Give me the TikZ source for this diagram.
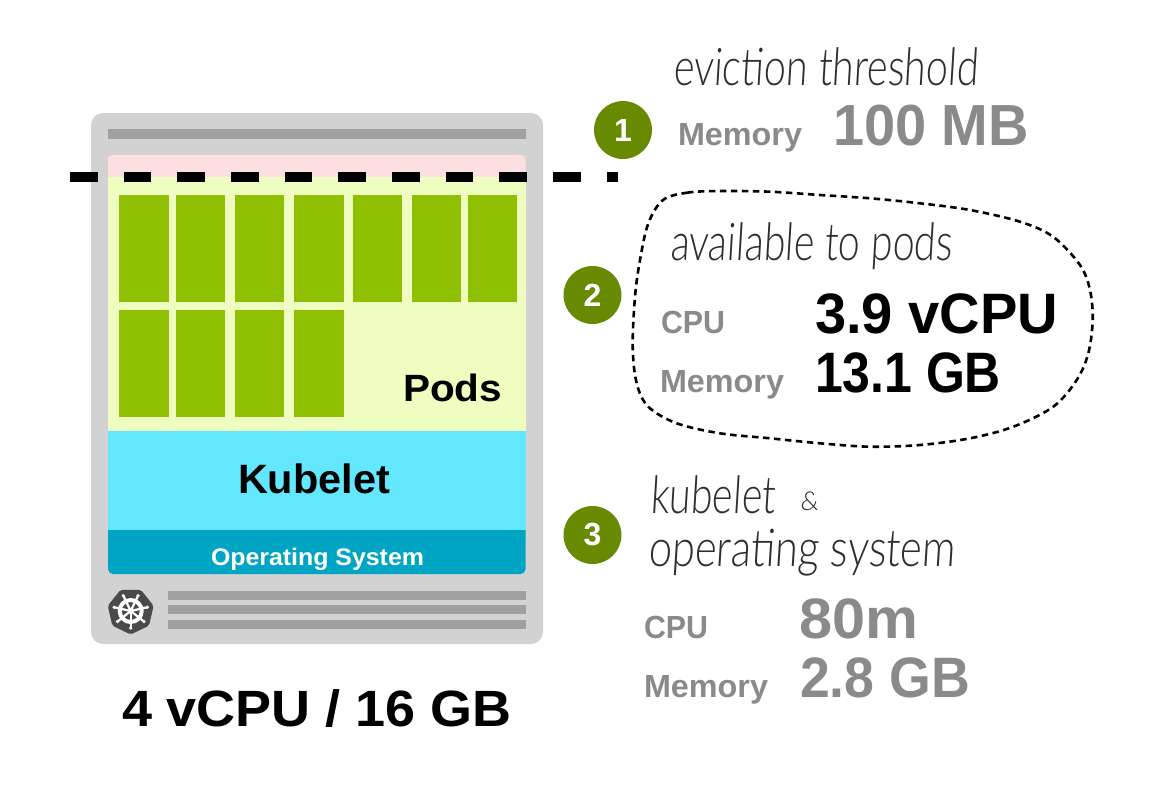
\documentclass[tikz,border=0pt]{standalone}
\usepackage{graphicx}
\usepackage{fontspec}
\setmainfont{Liberation Sans}
\newfontfamily\hand{Lato Light}[FakeSlant=0.08]
\newcommand\tw[2]{\resizebox{#1pt}{\height}{#2}}
\newcommand\fs[1]{\fontsize{#1pt}{#1pt}\selectfont}
\definecolor{nodegray}{HTML}{D2D2D2}
\definecolor{bargray}{HTML}{A0A0A0}
\definecolor{pinkc}{HTML}{FDDFE2}
\definecolor{lime}{HTML}{EFFDC0}
\definecolor{podc}{HTML}{8EBF00}
\definecolor{cyanc}{HTML}{62E7FF}
\definecolor{tealc}{HTML}{00A5C4}
\definecolor{badge}{HTML}{688A00}
\definecolor{mute}{HTML}{8A8A8A}
\definecolor{ink}{HTML}{2E2E2E}
\definecolor{logoc}{HTML}{4A4A4A}
\tikzset{
  txt/.style={inner sep=0pt,outer sep=0pt,anchor=base west},
  big/.style={txt,font=\bfseries\fs{#1}},
  label/.style={txt,font=\bfseries\fs{32},text=mute},
  handw/.style={txt,font=\hand\fs{52},text=ink},
  podbox/.style={fill=podc},
  barbox/.style={fill=bargray},
  badgec/.style={circle,fill=badge,minimum size=58pt,inner sep=0pt,text=white,font=\bfseries\fs{32}},
}
\begin{document}
\begin{tikzpicture}[x=1pt,y=-1pt]
\useasboundingbox (0,0) rectangle (1170,806);
\fill[white] (0,0) rectangle (1170,806);
% server
\fill[nodegray,rounded corners=12pt] (91,113) rectangle (543,644);
\fill[barbox] (108,129) rectangle (525.5,139);
\fill[pinkc] (108,177) [rounded corners=4pt] -- (108,155) -- (525.5,155) [sharp corners] -- (525.5,177) -- cycle;
\fill[lime] (108,177) rectangle (525.5,431);
\fill[cyanc] (108,431) rectangle (525.5,530);
\fill[tealc] (108,530) [rounded corners=5pt] -- (108,574) -- (525.5,574) [sharp corners] -- (525.5,530) -- cycle;
% pods
\foreach \a/\b in {119.3/168.7,176/225,235/284,294.3/344,353/402,412/461,468/517}
  \fill[podbox] (\a,195) rectangle (\b,302);
\foreach \a/\b in {119.3/168.7,176/225,235/284,294.3/344}
  \fill[podbox] (\a,310) rectangle (\b,417);
% bottom bars
\foreach \y in {591,605.3,620.3}
  \fill[barbox] (168,\y) rectangle (525.5,\y+9);
% logo
\begin{scope}[shift={(130.7,611)}]
  \fill[logoc,rounded corners=2pt] (90:23.5) \foreach \k in {1,...,6} { -- ({90+\k*360/7}:23.5) } -- cycle;
  \draw[white,line width=4pt] (0,0) circle (11);
  \foreach \k in {0,...,6} {
    \draw[white,line width=2.2pt] (0,0) -- ({90+\k*360/7}:17.5);
    \fill[white] ({90+\k*360/7}:17) circle (1.8);
  }
  \fill[white] (0,0) circle (3);
\end{scope}
% threshold line
\coordinate (lineA) at (70,177.4);
\coordinate (lineB) at (618,177.4);
\draw[black,line width=10pt,dash pattern=on 27.5pt off 26.17pt] (lineA) -- (lineB);
% blob
\draw[black,line width=2.6pt,dash pattern=on 6.5pt off 4.5pt] plot[smooth cycle,tension=0.55] coordinates {
 (663,200) (687,192.7) (720,191) (770,191.7) (820,195) (870,198.3) (920,203.3) (970,210) (1020,221.7) (1053,236.7) (1080,265) (1090,290) (1092.7,320) (1088.3,353.3) (1076.7,380) (1053.3,406.7) (1013.3,426.7) (970,438.3) (920,445) (870,446.7) (820,443.3) (770,438.3) (720,433.3) (676.7,423.3) (648.3,406.7) (636.7,383.3) (632.7,346.7) (635,296.7) (640,260) (648.3,223.3)};
% badges
\node[badgec] (b1) at (623,130) {1};
\node[badgec] (b2) at (592.5,295) {2};
\node[badgec] (b3) at (592.5,535) {3};
% block labels
\node[big=38] (pods) at (403,401) {\tw{99}{Pods}};
\node[big=41] (kub) at (238,493) {\tw{152}{Kubelet}};
\node[big=24,text=white] (os) at (211,565) {\tw{213}{Operating System}};
\node[big=51] (total) at (122,726) {\tw{390}{4 vCPU / 16 GB}};
% section 1
\node[handw] (h1) at (673,85) {\tw{305}{eviction threshold}};
\node[label] (m1) at (678,145) {\tw{124}{Memory}};
\node[big=58,text=mute] (v1) at (833,145) {\tw{196}{100 MB}};
% section 2
\node[handw] (h2) at (670,260) {\tw{282}{available to pods}};
\node[label] (c2) at (661,333) {\tw{64}{CPU}};
\node[label] (m2) at (660,392) {\tw{124}{Memory}};
\node[big=57] (v2a) at (815,333) {\tw{243}{3.9 vCPU}};
\node[big=57] (v2b) at (815,392) {\tw{186}{13.1 GB}};
% section 3
\node[handw] (h3a) at (650,513) {\tw{125}{kubelet}};
\node[txt,font=\hand\fs{26},text=ink] (h3amp) at (800,510) {\&};
\node[handw] (h3b) at (648,566) {\tw{307}{operating system}};
\node[label] (c3) at (644,638) {\tw{64}{CPU}};
\node[label] (m3) at (644,697) {\tw{124}{Memory}};
\node[big=57,text=mute] (v3a) at (799,638) {\tw{119}{80m}};
\node[big=57,text=mute] (v3b) at (800,697) {\tw{170}{2.8 GB}};
\end{tikzpicture}
\end{document}
